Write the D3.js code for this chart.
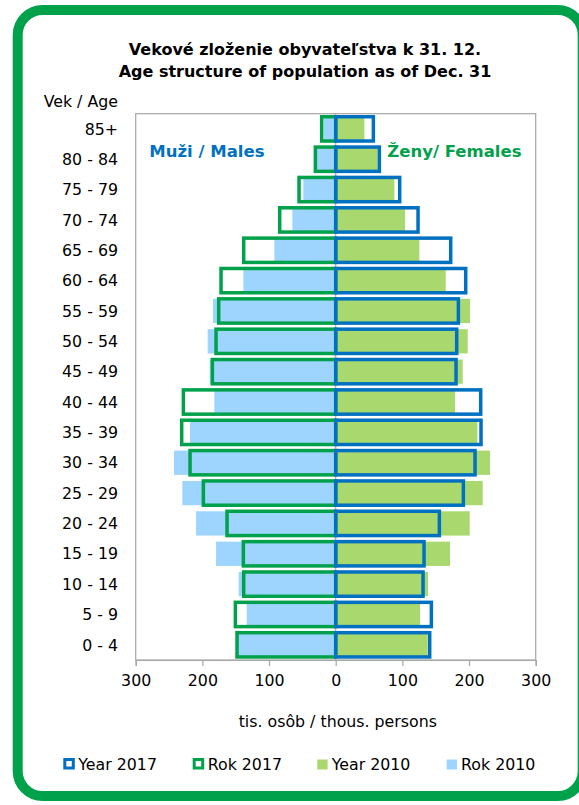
<!DOCTYPE html>
<html>
<head>
<meta charset="utf-8">
<script src="https://cdn.jsdelivr.net/npm/d3@7"></script>
<style>
  html, body { margin: 0; padding: 0; background: #fff; }
  svg { display: block; }
  text { font-family: "DejaVu Sans", Verdana, sans-serif; fill: #000; }
</style>
</head>
<body>
<svg id="chart" width="579" height="805"></svg>
<script>
// ---- data (thousand persons), ordered from oldest (top) to youngest (bottom)
const ages = ["85+","80 - 84","75 - 79","70 - 74","65 - 69","60 - 64","55 - 59","50 - 54","45 - 49",
              "40 - 44","35 - 39","30 - 34","25 - 29","20 - 24","15 - 19","10 - 14","5 - 9","0 - 4"];
const males2010   = [17.6, 28.5, 48.5, 65, 92, 138.5, 184, 192, 189, 182, 218.5, 242.5, 230, 209.5, 179.5, 145.5, 133.5, 147];
const males2017   = [21, 30.5, 55, 84, 138, 172, 175.5, 179.5, 185, 228.5, 231, 218.5, 198.5, 163, 138.5, 138, 150.5, 148];
const females2010 = [43, 63, 88, 104, 125.5, 165, 201.5, 198, 190.5, 179, 212.5, 231.5, 220.5, 201, 171.5, 138.5, 126.5, 138];
const females2017 = [56.5, 65.5, 96, 123.5, 172.5, 195, 184, 181.5, 180.5, 217.5, 218, 209, 191.5, 155.5, 132.5, 131, 143.5, 141];
const xTicks = [-300, -200, -100, 0, 100, 200, 300];
const titleLines = ["Vekové zloženie obyvateľstva k 31. 12.", "Age structure of population as of Dec. 31"];
const legendItems = [
  {label: "Year 2017", type: "outline", color: "#0070C0"},
  {label: "Rok 2017",  type: "outline", color: "#00A14B"},
  {label: "Year 2010", type: "fill",    color: "#A9D86E"},
  {label: "Rok 2010",  type: "fill",    color: "#9DD5FF"}
];

const C = {
  blue: "#0070C0", green: "#00A14B", lightBlue: "#9DD5FF", lightGreen: "#A9D86E",
  border: "#00A14B", axis: "#A6A6A6"
};

const svg = d3.select("#chart");
const FS = 15.8;

// outer rounded frame
svg.append("rect")
  .attr("x", 17.7).attr("y", 10).attr("width", 565).attr("height", 786)
  .attr("rx", 25).attr("ry", 25)
  .attr("fill", "#fff").attr("stroke", C.border).attr("stroke-width", 10);

// plot area
const plot = {left: 135.7, right: 535.7, top: 113.7, bottom: 660};
const x = d3.scaleLinear().domain([-300, 300]).range([plot.left, plot.right]);
const y = d3.scaleBand().domain(ages).range([plot.top, plot.bottom]).paddingInner(0.2).paddingOuter(0.1);

svg.append("rect")
  .attr("x", plot.left).attr("y", plot.top)
  .attr("width", plot.right - plot.left).attr("height", plot.bottom - plot.top)
  .attr("fill", "none").attr("stroke", C.axis).attr("stroke-width", 1.2);

// vertical axis line at zero
svg.append("line")
  .attr("x1", x(0)).attr("x2", x(0)).attr("y1", plot.top).attr("y2", plot.bottom)
  .attr("stroke", C.axis).attr("stroke-width", 1);

// title
svg.selectAll("text.title").data(titleLines).join("text")
  .attr("class", "title")
  .attr("x", 305).attr("y", (d, i) => 55 + i * 21.5)
  .attr("text-anchor", "middle")
  .style("font-weight", "bold").style("font-size", "16px")
  .text(d => d);

// 2010 fills
const bw = y.bandwidth();
svg.append("g").selectAll("rect").data(ages).join("rect")
  .attr("x", (d, i) => x(-males2010[i])).attr("y", d => y(d))
  .attr("width", (d, i) => x(0) - x(-males2010[i])).attr("height", bw)
  .attr("fill", C.lightBlue);
svg.append("g").selectAll("rect").data(ages).join("rect")
  .attr("x", x(0)).attr("y", d => y(d))
  .attr("width", (d, i) => x(females2010[i]) - x(0)).attr("height", bw)
  .attr("fill", C.lightGreen);

// 2017 outlines
svg.append("g").selectAll("rect").data(ages).join("rect")
  .attr("x", (d, i) => x(-males2017[i])).attr("y", d => y(d))
  .attr("width", (d, i) => x(0) - x(-males2017[i])).attr("height", bw)
  .attr("fill", "none").attr("stroke", C.green).attr("stroke-width", 3.5);
svg.append("g").selectAll("rect").data(ages).join("rect")
  .attr("x", x(0)).attr("y", d => y(d))
  .attr("width", (d, i) => x(females2017[i]) - x(0)).attr("height", bw)
  .attr("fill", "none").attr("stroke", C.blue).attr("stroke-width", 3.5);

// category labels
svg.append("g").selectAll("text").data(ages).join("text")
  .attr("x", 118).attr("y", d => y(d) + bw / 2)
  .attr("dy", "0.36em")
  .attr("text-anchor", "end")
  .style("font-size", FS + "px")
  .text(d => d);
svg.append("text").attr("x", 118).attr("y", 107).attr("text-anchor", "end")
  .style("font-size", FS + "px").text("Vek / Age");

// sex labels
svg.append("text").attr("x", 149.3).attr("y", 157)
  .style("font-weight", "bold").style("font-size", "16.5px").style("fill", C.blue)
  .text("Muži / Males");
svg.append("text").attr("x", 387.3).attr("y", 157)
  .style("font-weight", "bold").style("font-size", "16.5px").style("fill", C.green)
  .text("Ženy/ Females");

// x axis
const ax = svg.append("g").attr("transform", `translate(0,${plot.bottom})`)
  .call(d3.axisBottom(x).tickValues(xTicks).tickSize(6).tickPadding(9).tickFormat(d => Math.abs(d)));
ax.select(".domain").attr("stroke", C.axis).attr("stroke-width", 1.2);
ax.selectAll(".tick line").attr("stroke", C.axis).attr("stroke-width", 1.2);
ax.selectAll(".tick text").style("font-size", FS + "px").style("font-family", '"DejaVu Sans", sans-serif').attr("fill", "#000");

svg.append("text").attr("x", 337.8).attr("y", 726.7).attr("text-anchor", "middle")
  .style("font-size", FS + "px").text("tis. osôb / thous. persons");

// legend
const legendX = [63.3, 192.7, 317.3, 446.7];
const lg = svg.append("g").selectAll("g").data(legendItems).join("g")
  .attr("transform", (d, i) => `translate(${legendX[i]},764)`);
lg.filter(d => d.type === "outline").append("rect")
  .attr("x", 1.5).attr("y", -4.5).attr("width", 8.5).attr("height", 8.5)
  .attr("fill", "#fff").attr("stroke", d => d.color).attr("stroke-width", 3);
lg.filter(d => d.type === "fill").append("rect")
  .attr("x", 0).attr("y", -4.5).attr("width", 10.3).attr("height", 10)
  .attr("fill", d => d.color);
lg.append("text").attr("x", (d) => d.type === "outline" ? 15 : 14.4).attr("y", 6)
  .style("font-size", FS + "px").text(d => d.label);
</script>
</body>
</html>
